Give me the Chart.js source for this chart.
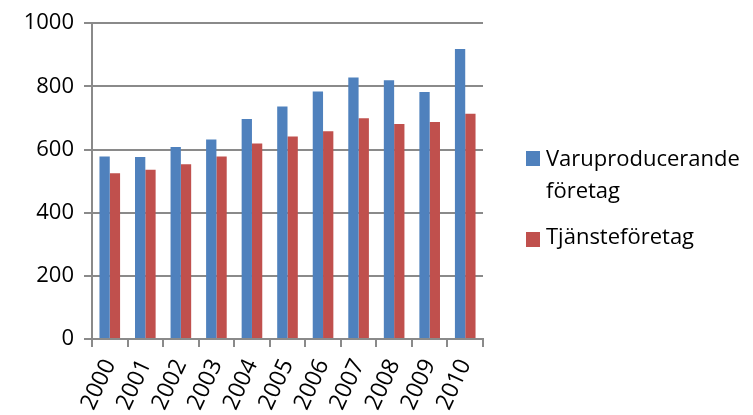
<!DOCTYPE html>
<html>
<head>
<meta charset="utf-8">
<script src="https://cdn.jsdelivr.net/npm/chart.js@4/dist/chart.umd.min.js"></script>
<style>
  body { margin: 0; background: #fff; }
  #wrap { position: relative; width: 753px; height: 415px; }
  #legend { position: absolute; left: 526px; top: 0; font-family: "Open Sans", sans-serif; font-size: 22px; line-height: 32px; color: #000; }
  .item { position: absolute; left: 0; white-space: nowrap; }
  .box { position: absolute; left: 0; width: 14px; height: 15px; }
  .txt { position: absolute; left: 20px; }
</style>
</head>
<body>
<div id="wrap">
  <canvas id="chart" width="753" height="415"></canvas>
  <div id="legend"></div>
</div>
<script>
// Données
const years = ['2000', '2001', '2002', '2003', '2004', '2005', '2006', '2007', '2008', '2009', '2010'];
const varuproducerande = [578, 576, 608, 632, 697, 736, 784, 828, 819, 782, 918];
const tjanste = [525, 536, 553, 578, 619, 641, 658, 699, 681, 687, 713];
const seriesNames = [['Varuproducerande', 'företag'], ['Tjänsteföretag']];
const colors = ['#4F81BD', '#C0504D'];

const gridColor = '#8a8a8a';
const font = { family: '"Open Sans", sans-serif', size: 22 };

new Chart(document.getElementById('chart'), {
    type: 'bar',
    data: {
        labels: years,
        datasets: [
            { label: seriesNames[0].join(' '), data: varuproducerande, backgroundColor: colors[0] },
            { label: seriesNames[1].join(' '), data: tjanste, backgroundColor: colors[1] }
        ]
    },
    options: {
        responsive: false,
        animation: false,
        categoryPercentage: 0.58,
        barPercentage: 1,
        layout: { padding: { top: 23, right: 270, left: 0, bottom: 0 } },
        plugins: { legend: { display: false }, tooltip: { enabled: false } },
        scales: {
            x: {
                afterFit: s => { s.height = 76; },
                grid: { offset: true, drawOnChartArea: false, tickLength: 8, color: gridColor, lineWidth: 2 },
                border: { color: gridColor, width: 2 },
                ticks: { color: '#000', font: { family: font.family, size: 23 }, minRotation: 65, maxRotation: 65, padding: 8 }
            },
            y: {
                min: 0,
                max: 1000,
                afterFit: s => { s.width = 92; },
                grid: { tickLength: 8, color: gridColor, lineWidth: 2 },
                border: { color: gridColor, width: 2 },
                ticks: { stepSize: 200, color: '#000', font, padding: 10, callback: v => String(v) }
            }
        }
    }
});

// Légende (deux lignes pour la première série)
const legend = document.getElementById('legend');
const tops = [141, 219];
const boxTops = [151, 232];
seriesNames.forEach((name, i) => {
    const item = document.createElement('div');
    item.className = 'item';
    item.style.top = tops[i] + 'px';
    item.innerHTML = `<span class="txt">${name.join('<br>')}</span>`;
    const box = document.createElement('div');
    box.className = 'box';
    box.style.top = boxTops[i] + 'px';
    box.style.background = colors[i];
    legend.appendChild(box);
    legend.appendChild(item);
});
</script>
</body>
</html>
